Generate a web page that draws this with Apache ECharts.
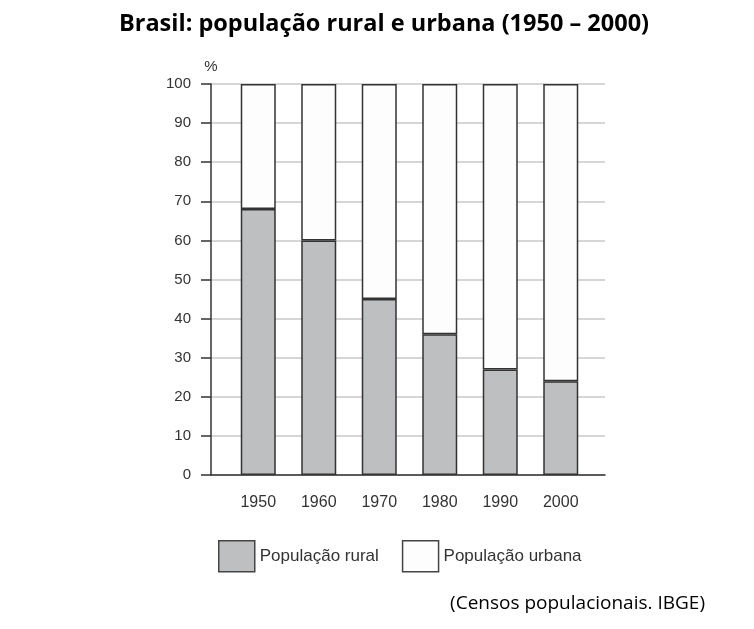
<!DOCTYPE html>
<html>
<head>
<meta charset="utf-8">
<script src="https://cdn.jsdelivr.net/npm/echarts@6/dist/echarts.min.js"></script>
<style>
  html, body { margin: 0; padding: 0; background: #fff; }
  #chart { width: 754px; height: 629px; }
</style>
</head>
<body>
<div id="chart"></div>
<script>
const years = ["1950", "1960", "1970", "1980", "1990", "2000"];
const rural = [68, 60, 45, 36, 27, 24];
const urbana = [32, 40, 55, 64, 73, 76];

const chart = echarts.init(document.getElementById("chart"));

const sans = "'Liberation Sans', Arial, sans-serif";
const barBorder = { borderColor: "#333", borderWidth: 1.5 };

chart.setOption({
  animation: false,
  textStyle: { fontFamily: sans },
  title: {
    text: "Brasil: população rural e urbana (1950 – 2000)",
    left: 379,
    top: 7,
    textAlign: "center",
    textStyle: {
      fontFamily: "'Open Sans', 'Noto Sans', sans-serif",
      fontWeight: "bold",
      fontSize: 23.5,
      color: "#000",
    },
  },
  // grid 0 holds the frame (y axis, gridlines, baseline); grid 1 holds the bars
  grid: [
    { left: 211, right: 149, top: 84, bottom: 154 },
    { left: 228, right: 163, top: 84, bottom: 154 },
  ],
  legend: {
    left: 218,
    top: 540,
    padding: 0,
    icon: "rect",
    itemWidth: 36,
    itemHeight: 31,
    itemGap: 23,
    textStyle: { fontSize: 17, color: "#333", fontFamily: sans },
    data: [
      { name: "População rural", itemStyle: { color: "#bebfc1", borderColor: "#444", borderWidth: 1.5 } },
      { name: "População urbana", itemStyle: { color: "#fdfdfd", borderColor: "#444", borderWidth: 1.5 } },
    ],
  },
  xAxis: [
    {
      gridIndex: 0,
      type: "value",
      min: 0,
      max: 1,
      splitLine: { show: false },
      axisTick: { show: false },
      axisLabel: { show: false },
      axisLine: { show: true, lineStyle: { color: "#333", width: 1.5 } },
    },
    {
      gridIndex: 1,
      type: "category",
      data: years,
      axisLine: { show: false },
      axisTick: { show: false },
      axisLabel: { margin: 20, fontSize: 16, color: "#333", fontFamily: sans },
    },
  ],
  yAxis: [
    {
      gridIndex: 0,
      type: "value",
      min: 0,
      max: 100,
      interval: 10,
      name: "%",
      nameLocation: "end",
      nameGap: 10,
      nameTextStyle: { fontSize: 15, color: "#333", align: "center", fontFamily: sans },
      axisLine: { show: true, lineStyle: { color: "#333", width: 1.5 } },
      axisTick: { show: true, length: 10, inside: false, lineStyle: { color: "#333", width: 1.5 } },
      axisLabel: { margin: 20, fontSize: 15, color: "#333", fontFamily: sans },
      splitLine: { show: true, lineStyle: { color: "#c9c9c9", width: 1.5 } },
    },
    {
      gridIndex: 1,
      type: "value",
      min: 0,
      max: 100,
      show: false,
    },
  ],
  series: [
    {
      name: "População rural",
      type: "bar",
      stack: "total",
      xAxisIndex: 1,
      yAxisIndex: 1,
      barWidth: 35,
      data: rural,
      itemStyle: Object.assign({ color: "#bebfc1" }, barBorder),
    },
    {
      name: "População urbana",
      type: "bar",
      stack: "total",
      xAxisIndex: 1,
      yAxisIndex: 1,
      barWidth: 35,
      data: urbana,
      itemStyle: Object.assign({ color: "#fdfdfd" }, barBorder),
    },
  ],
  graphic: [
    {
      type: "text",
      right: 49,
      top: 594,
      style: {
        text: "(Censos populacionais. IBGE)",
        fontSize: 19,
        fontFamily: "'Open Sans', 'Noto Sans', sans-serif",
        fill: "#000",
      },
    },
  ],
});
</script>
</body>
</html>
